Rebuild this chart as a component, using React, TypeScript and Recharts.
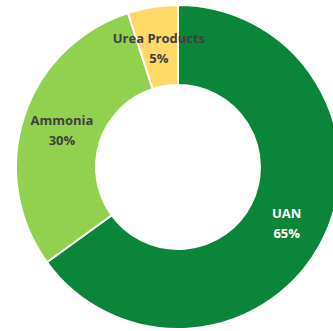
import { PieChart, Pie, Cell } from 'recharts'

const categories = ['UAN', 'Ammonia', 'Urea Products']
const shares = [65, 30, 5]

const COLORS = ['#0A853A', '#92D050', '#FFD966']
const LABEL_COLORS = ['#FFFFFF', '#404040', '#404040']

const data = categories.map((name, i) => ({ name, value: shares[i] }))

const RADIAN = Math.PI / 180

function renderLabel(props: any) {
  const { cx, cy, midAngle, innerRadius, outerRadius, index, percent } = props
  const r = (innerRadius + outerRadius) / 2
  const x = cx + r * Math.cos(-midAngle * RADIAN)
  const y = cy + r * Math.sin(-midAngle * RADIAN)
  return (
    <text
      x={x}
      y={y}
      textAnchor="middle"
      fill={LABEL_COLORS[index]}
      fontFamily="'Open Sans', sans-serif"
      fontWeight="bold"
      fontSize={13}
    >
      <tspan x={x} dy={-4}>{categories[index]}</tspan>
      <tspan x={x} dy={20}>{`${Math.round(percent * 100)}%`}</tspan>
    </text>
  )
}

export default function App() {
  return (
    <div style={{ position: 'absolute', left: 0, top: 0, width: 333, height: 331, background: '#fff' }}>
      <PieChart width={333} height={331} margin={{ top: 0, right: 0, bottom: 0, left: 0 }}>
        <Pie
          data={data}
          dataKey="value"
          nameKey="name"
          cx={178}
          cy={167}
          innerRadius={82}
          outerRadius={162}
          startAngle={90}
          endAngle={-270}
          stroke="#fff"
          strokeWidth={2}
          label={renderLabel}
          labelLine={false}
          isAnimationActive={false}
        >
          {data.map((d, i) => (
            <Cell key={d.name} fill={COLORS[i]} />
          ))}
        </Pie>
      </PieChart>
    </div>
  )
}
